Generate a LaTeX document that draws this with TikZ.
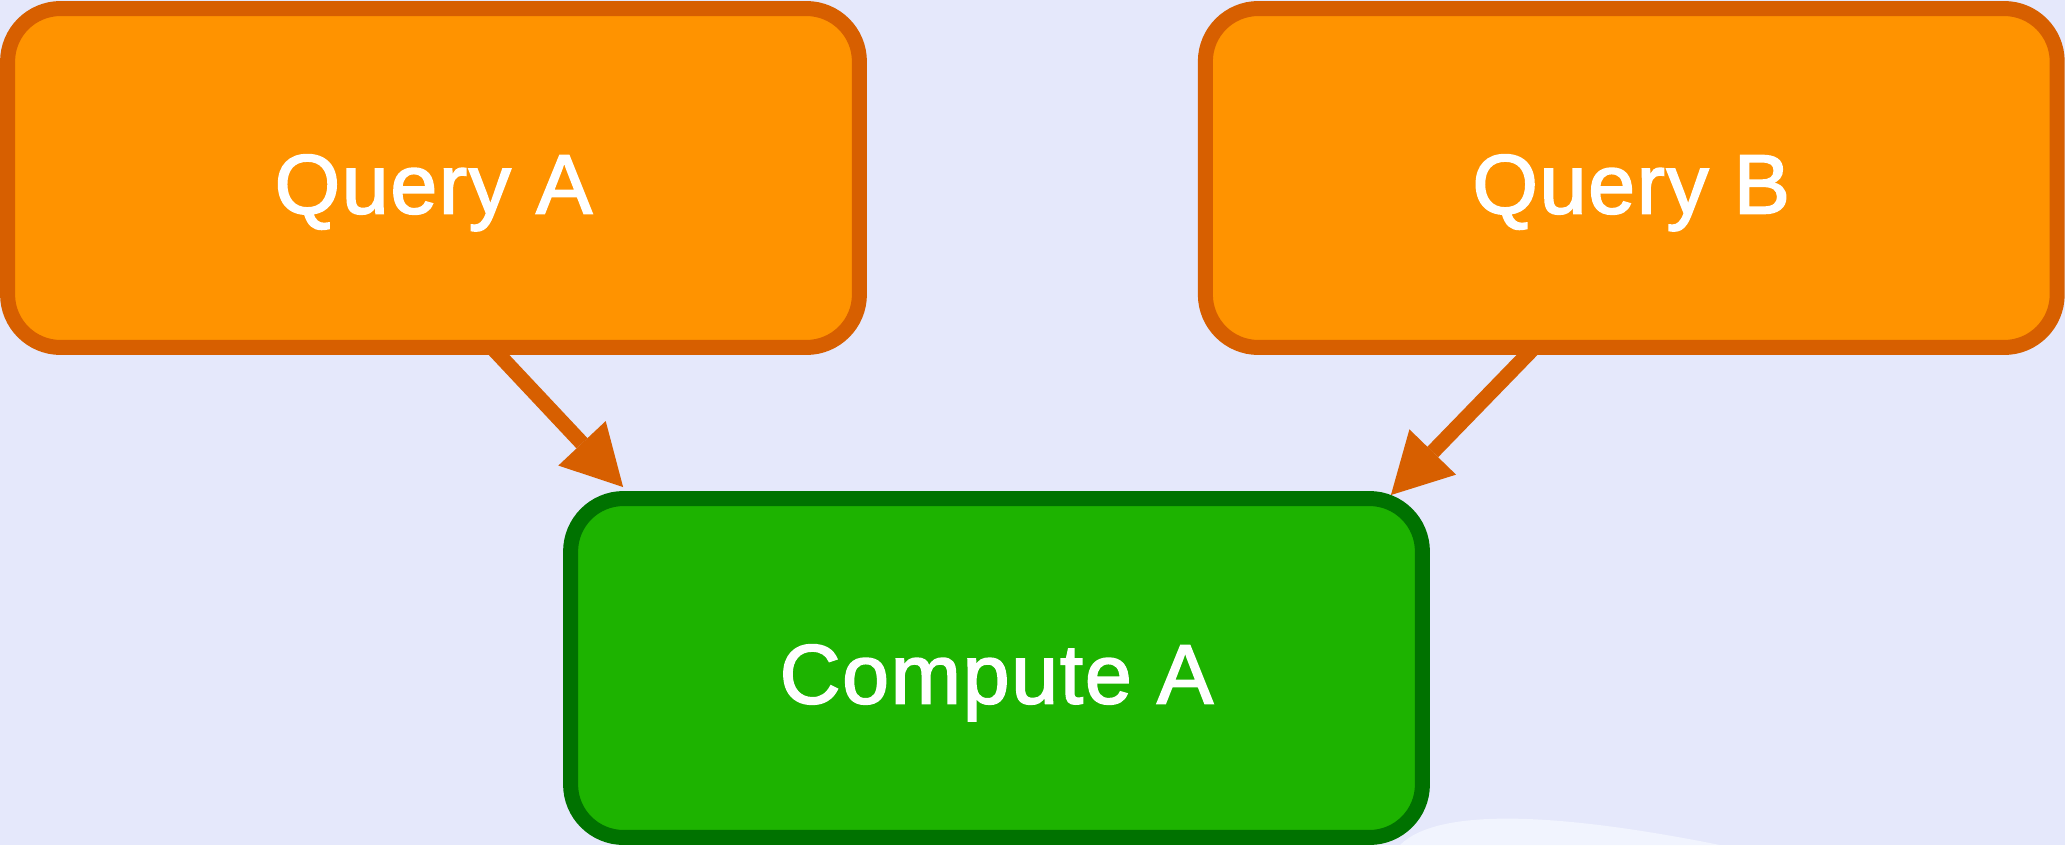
\documentclass[tikz,border=0pt]{standalone}
\usepackage{fontspec}
\setmainfont{Liberation Sans}
\newfontfamily\boxfont{Liberation Sans}[FakeBold=2, LetterSpace=2]
\usetikzlibrary{positioning,arrows.meta,calc}
\definecolor{bgsky}{HTML}{E5E8FB}
\definecolor{bglite}{HTML}{F1F4FE}
\definecolor{qfill}{HTML}{FF9300}
\definecolor{qline}{HTML}{D75F00}
\definecolor{cfill}{HTML}{1DB300}
\definecolor{cline}{HTML}{007200}
\tikzset{
  query/.style={rectangle, rounded corners=1.06cm, draw=qline, fill=qfill, line width=0.3cm,
                minimum width=17.04cm, minimum height=6.78cm, inner sep=0pt, outer sep=0pt,
                text=white, font=\boxfont\fontsize{48pt}{58pt}\selectfont, text height=1.42cm, text depth=0pt},
  compute/.style={query, draw=cline, fill=cfill},
  flow/.style={-{Triangle[length=1.2cm, width=1.3cm, line width=0pt]}, line width=0.3cm, draw=qline}
}
\begin{document}
\begin{tikzpicture}[x=0.02cm, y=-0.02cm]
\fill[bgsky] (0,0) rectangle (2065,845);
\fill[bglite] (1400,845) .. controls (1440,805) and (1570,815) .. (1720,845) -- cycle;
\useasboundingbox (0,0) rectangle (2065,845);
\node[query] (qa) at (433.5,178) {Query A};
\node[query, right=6.92cm of qa] (qb) {Query B};
\node[compute] (ca) at (996.5,668) {Compute A};
\draw[flow] ($(qa.south)+(58.5,0)$) -- ($(ca.north west)+(52.5,-11.5)$);
\draw[flow] ($(qb.south)+(-97,0)$) -- ($(ca.north east)+(-31.5,-3.5)$);
\end{tikzpicture}
\end{document}
